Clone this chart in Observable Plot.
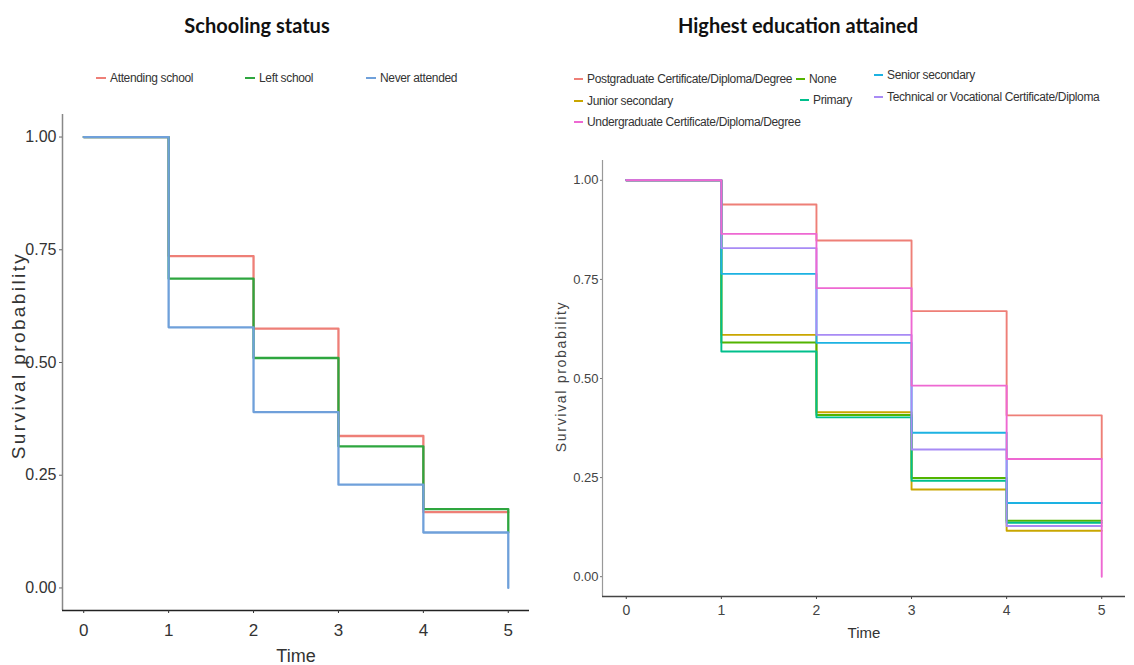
<!DOCTYPE html>
<html>
<head>
<meta charset="utf-8">
<script src="https://cdn.jsdelivr.net/npm/d3@7"></script>
<script src="https://cdn.jsdelivr.net/npm/@observablehq/plot@0.6"></script>
<style>
  html, body { margin: 0; padding: 0; background: #fff; }
  #root { position: relative; width: 1134px; height: 665px; overflow: hidden; background: #fff; }
  .title { position: absolute; font-family: Lato, "Open Sans", sans-serif; font-weight: 700; font-size: 20px; color: #111; transform: translateX(-50%); white-space: nowrap; }
  .leg { position: absolute; font-family: "Liberation Sans", Arial, sans-serif; color: #333; white-space: nowrap; display: flex; align-items: center; transform: translateY(-50%); letter-spacing: -0.35px; }
  .leg .sw { display: inline-block; height: 0; border-top: 2px solid; margin-right: 4px; }
  .panel { position: absolute; top: 0; }
</style>
</head>
<body>
<div id="root">
  <div class="title" style="left:257px; top:13px;">Schooling status</div>
  <div class="title" style="left:798px; top:13px;">Highest education attained</div>
  <div id="legL"></div>
  <div id="legR"></div>
  <div id="left" class="panel" style="left:0px;"></div>
  <div id="right" class="panel" style="left:540px;"></div>
</div>
<script>
// ---------- data ----------
const times = [0, 1, 2, 3, 4, 5];

const schoolGroups = ["Attending school", "Left school", "Never attended"];
const schoolColors = ["#EE7F77", "#2EA63F", "#6FA0DA"];
const attendingSchool = [1, 0.736, 0.575, 0.337, 0.168, 0.168];
const leftSchool      = [1, 0.686, 0.510, 0.314, 0.175, 0.123];
const neverAttended   = [1, 0.578, 0.390, 0.229, 0.123, 0];

const eduGroups = [
  "Postgraduate Certificate/Diploma/Degree",
  "Junior secondary",
  "None",
  "Primary",
  "Senior secondary",
  "Technical or Vocational Certificate/Diploma",
  "Undergraduate Certificate/Diploma/Degree"
];
const eduColors = ["#EE7F77", "#C9A600", "#53B400", "#00BF8C", "#1DB2E2", "#A88BF5", "#EE68D2"];
const postgraduate  = [1, 0.939, 0.848, 0.670, 0.407, 0.297];
const juniorSec     = [1, 0.610, 0.415, 0.220, 0.116, 0.116];
const noneEdu       = [1, 0.591, 0.408, 0.249, 0.141, 0.141];
const primaryEdu    = [1, 0.568, 0.402, 0.242, 0.136, 0.136];
const seniorSec     = [1, 0.764, 0.590, 0.363, 0.186, 0.186];
const technical     = [1, 0.829, 0.610, 0.321, 0.128, 0.128];
const undergraduate = [1, 0.865, 0.728, 0.482, 0.297, 0];

const yTicks = [0, 0.25, 0.5, 0.75, 1];
const xTicks = [0, 1, 2, 3, 4, 5];
const yTitle = "Survival probability";
const xTitle = "Time";

// ---------- tidy rows ----------
function rows(groups, series) {
  const out = [];
  groups.forEach((g, i) => times.forEach((t, j) => out.push({group: g, time: t, surv: series[i][j]})));
  return out;
}
const leftRows = rows(schoolGroups, [attendingSchool, leftSchool, neverAttended]);
const rightRows = rows(eduGroups, [postgraduate, juniorSec, noneEdu, primaryEdu, seniorSec, technical, undergraduate]);

const sans = '"Liberation Sans", Arial, sans-serif';

// ---------- left panel ----------
const left = Plot.plot({
  width: 540, height: 665,
  marginLeft: 62, marginRight: 11, marginTop: 114, marginBottom: 55,
  x: {domain: [-0.25, 5.25]},
  y: {domain: [-0.05, 1.05]},
  color: {domain: schoolGroups, range: schoolColors},
  style: {fontFamily: sans, background: "transparent", color: "#333"},
  marks: [
    Plot.ruleX([-0.25], {stroke: "#888", strokeWidth: 1.5}),
    Plot.ruleY([-0.05], {stroke: "#222", strokeWidth: 1.5}),
    Plot.axisY({ticks: yTicks, tickFormat: d3.format(".2f"), tickSize: 3, tickPadding: 3, fontSize: 16, label: null, stroke: "#666"}),
    Plot.axisX({ticks: xTicks, tickFormat: d3.format("d"), tickSize: 3, tickPadding: 10, fontSize: 17, label: null}),
    Plot.text([yTitle], {frameAnchor: "left", textAnchor: "middle", dx: -44, dy: -7, rotate: -90, fontSize: 19, fill: "#333"}),
    Plot.text([xTitle], {frameAnchor: "bottom", dy: 51, fontSize: 18, fill: "#333"}),
    Plot.line(leftRows, {x: "time", y: "surv", z: "group", stroke: "group", curve: "step-after", strokeWidth: 2.3})
  ]
});
document.getElementById("left").appendChild(left);

// ---------- right panel ----------
const right = Plot.plot({
  width: 594, height: 665,
  marginLeft: 62, marginRight: 9, marginTop: 160, marginBottom: 69,
  x: {domain: [-0.25, 5.25]},
  y: {domain: [-0.05, 1.05]},
  color: {domain: eduGroups, range: eduColors},
  style: {fontFamily: sans, background: "transparent", color: "#444"},
  marks: [
    Plot.ruleX([-0.25], {stroke: "#999", strokeWidth: 1.2}),
    Plot.ruleY([-0.05], {stroke: "#444", strokeWidth: 1.5}),
    Plot.axisY({ticks: yTicks, tickFormat: d3.format(".2f"), tickSize: 2, tickPadding: 2, fontSize: 13, label: null, stroke: "#777"}),
    Plot.axisX({ticks: xTicks, tickFormat: d3.format("d"), tickSize: 3, tickPadding: 6, fontSize: 14, label: null}),
    Plot.text([yTitle], {frameAnchor: "left", textAnchor: "middle", dx: -41, dy: -2, rotate: -90, fontSize: 14, fill: "#444"}),
    Plot.text([xTitle], {frameAnchor: "bottom", dy: 41, fontSize: 15, fill: "#333"}),
    Plot.line(rightRows, {x: "time", y: "surv", z: "group", stroke: "group", curve: "step-after", strokeWidth: 1.9})
  ]
});
document.getElementById("right").appendChild(right);

// widen the y-axis titles like the reference
d3.select(left).selectAll("text").filter(function() { return this.textContent === yTitle; }).style("letter-spacing", "2.4px");
d3.select(right).selectAll("text").filter(function() { return this.textContent === yTitle; }).style("letter-spacing", "1.7px");

// ---------- legends ----------
const legLPos = [[96, 78], [245, 78], [366, 78]];
const legL = document.getElementById("legL");
schoolGroups.forEach((g, i) => {
  const d = document.createElement("div");
  d.className = "leg";
  d.style.left = legLPos[i][0] + "px"; d.style.top = legLPos[i][1] + "px"; d.style.fontSize = "12px";
  d.innerHTML = `<span class="sw" style="width:10px;border-color:${schoolColors[i]}"></span>${g}`;
  legL.appendChild(d);
});
const legRPos = {
  "Postgraduate Certificate/Diploma/Degree": [574, 79],
  "Junior secondary": [574, 101],
  "Undergraduate Certificate/Diploma/Degree": [574, 122],
  "None": [796, 79],
  "Primary": [800, 100],
  "Senior secondary": [874, 75],
  "Technical or Vocational Certificate/Diploma": [874, 97]
};
const legR = document.getElementById("legR");
eduGroups.forEach((g, i) => {
  const d = document.createElement("div");
  d.className = "leg";
  d.style.left = legRPos[g][0] + "px"; d.style.top = legRPos[g][1] + "px"; d.style.fontSize = "12px";
  d.innerHTML = `<span class="sw" style="width:9px;border-color:${eduColors[i]}"></span>${g}`;
  legR.appendChild(d);
});
</script>
</body>
</html>
